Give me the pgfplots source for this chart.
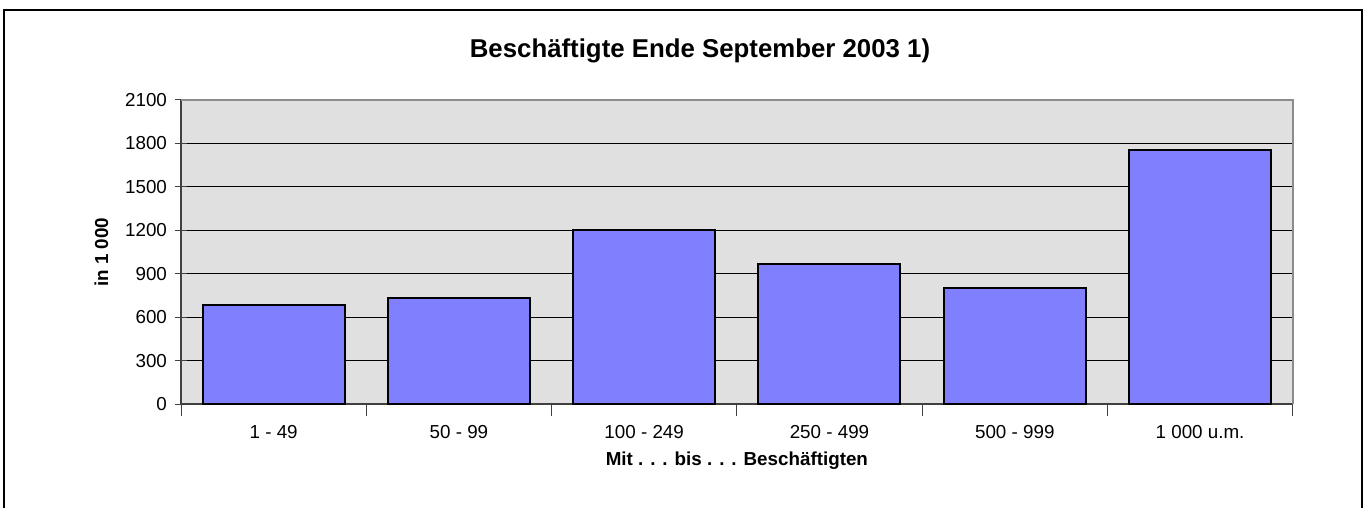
\documentclass[border=0pt]{standalone}
\usepackage{pgfplots}
\pgfplotsset{compat=1.18}
\usepackage{fontspec}
\setmainfont{Liberation Sans}
\definecolor{barblue}{HTML}{8080FF}
\definecolor{plotbg}{HTML}{E0E0E0}
\definecolor{axisdark}{HTML}{404040}
\definecolor{bordergray}{HTML}{8C8C8C}
\begin{document}
\begin{tikzpicture}
\useasboundingbox (0,0) rectangle (685pt,254pt);
\draw[line width=1pt] (2pt,-5pt) -- (2pt,249pt) -- (681pt,249pt) -- (681pt,-5pt);
\node[anchor=base, font=\bfseries\fontsize{12.9}{14}\selectfont] at (350pt,225pt) {Beschäftigte Ende September 2003 1)};
\begin{axis}[
  at={(90.5pt,51.85pt)}, anchor=south west,
  scale only axis, width=555.85pt, height=152.15pt,
  xmin=0.5, xmax=6.5, ymin=0, ymax=2100,
  axis background/.style={fill=plotbg},
  axis x line*=bottom, axis y line*=left,
  axis line style={axisdark, line width=0.9pt},
  ytick={0,300,...,2100},
  xtick={1,...,6},
  xticklabels={1 - 49, 50 - 99, 100 - 249, 250 - 499, 500 - 999, 1 000 u.m.},
  minor xtick={0.5,1.5,...,6.5},
  tick align=center,
  major tick length=6pt,
  minor tick length=6pt,
  xtick style={draw=none},
  minor x tick style={draw=axisdark, line width=0.5pt},
  ytick style={draw=axisdark, line width=0.5pt},
  ymajorgrids, grid style={black, line width=0.55pt},
  /pgf/number format/assume math mode=true,
  /pgf/number format/1000 sep={},
  ticklabel style={font=\fontsize{9.4}{11}\selectfont},
  xticklabel style={yshift=-1pt},
  yticklabel style={xshift=-0.5pt},
  xlabel={Mit . . . bis . . . Beschäftigten},
  ylabel={in 1 000},
  label style={font=\bfseries\fontsize{9.4}{11}\selectfont},
  xlabel style={yshift=0.5pt},
  ylabel style={yshift=1.5pt},
  ybar, bar width=71pt,
  clip=false,
]
\addplot[fill=barblue, draw=black, line width=1pt, bar shift=0pt] coordinates {
  (1,687) (2,734) (3,1203) (4,966) (5,801) (6,1753)
};
\draw[bordergray, line width=1pt] (axis cs:0.5,2100) -- (axis cs:6.5,2100) -- (axis cs:6.5,0);
\end{axis}
\end{tikzpicture}
\end{document}
